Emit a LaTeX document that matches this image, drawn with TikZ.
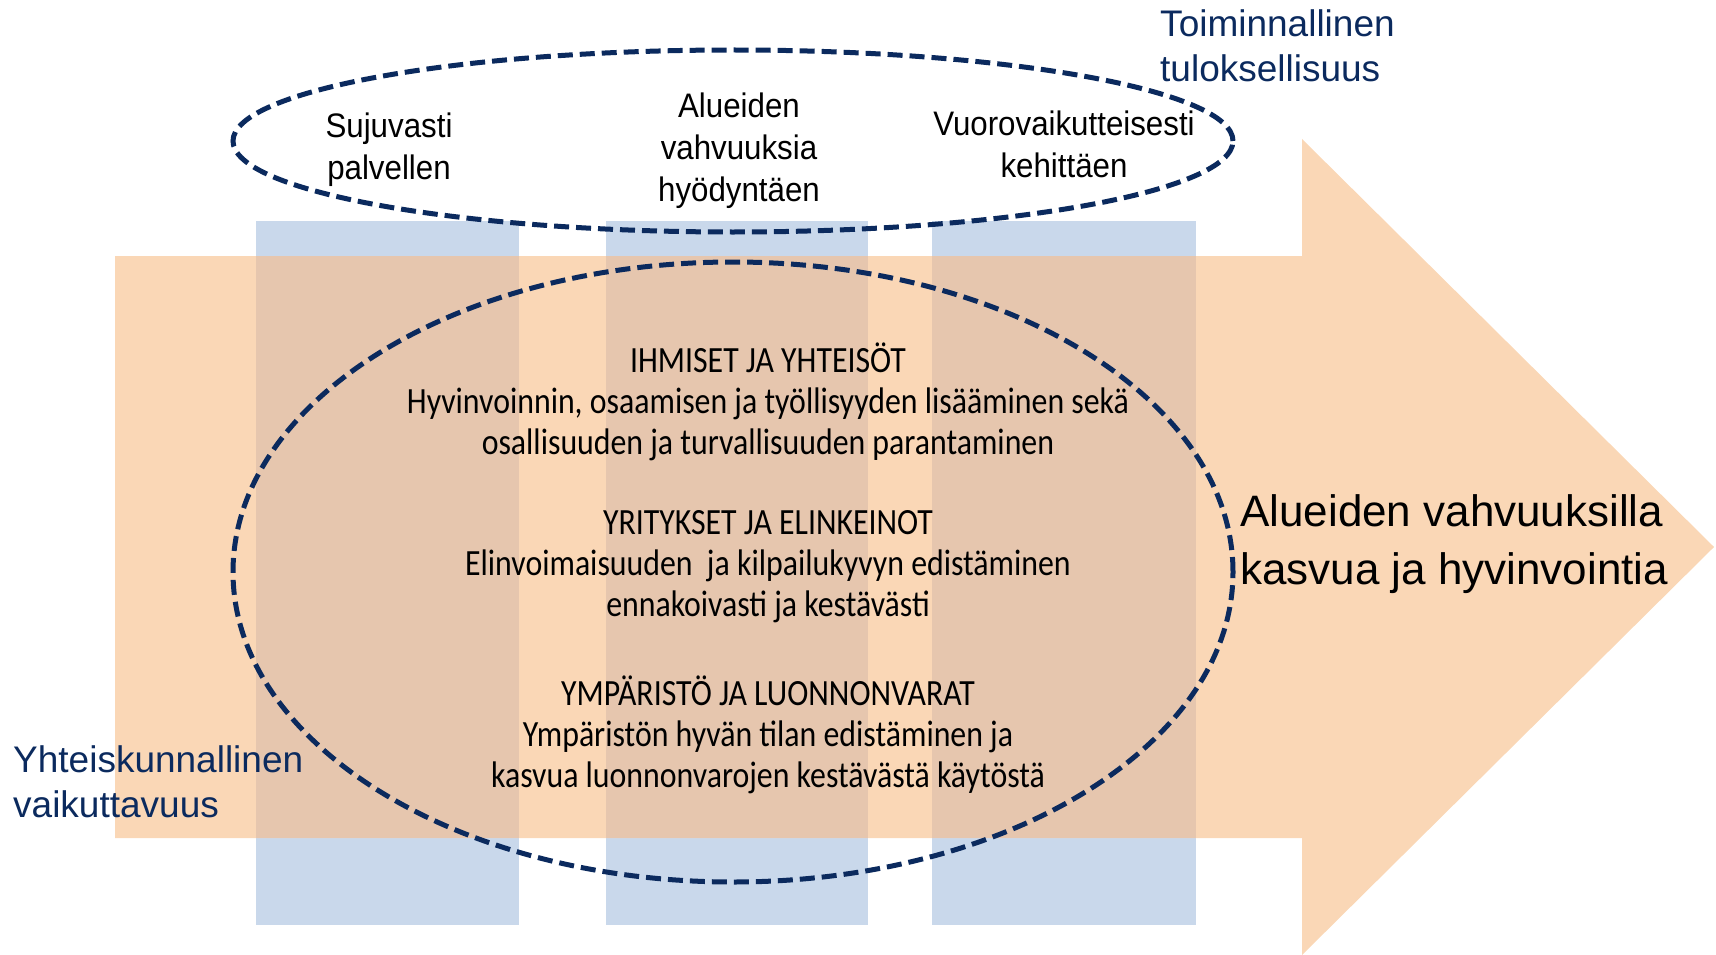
\documentclass[tikz,border=0pt]{standalone}
\usepackage{fontspec}
\setmainfont{Liberation Sans}
\newfontfamily\narrowfont[FakeStretch=0.92]{Liberation Sans}
\newfontfamily\condfont[FakeStretch=0.86]{Carlito}
\usetikzlibrary{positioning}

\definecolor{peach}{HTML}{FAD7B6}
\definecolor{paleblue}{HTML}{C9D8EB}
\definecolor{mixed}{HTML}{E6C6AE}
\definecolor{navy}{HTML}{0B2A5E}

\begin{document}
\begin{tikzpicture}[x=1pt, y=-1pt,
    colbox/.style={fill=paleblue, draw=none},
    overlap/.style={fill=mixed, draw=none},
    ring/.style={draw=navy, line width=5pt, dash pattern=on 15pt off 7pt},
    toplbl/.style={align=center, inner sep=0pt, font=\narrowfont\fontsize{34}{42}\selectfont},
    goal/.style={align=center, inner sep=0pt, font=\condfont\fontsize{37}{41}\selectfont},
    sidelbl/.style={align=left, anchor=west, inner sep=0pt, text=navy, font=\fontsize{37}{45}\selectfont}]

    \useasboundingbox (0,0) rectangle (1716,955);

    \fill[colbox] (256,221) rectangle (519,925);
    \fill[colbox] (606,221) rectangle (868,925);
    \fill[colbox] (932,221) rectangle (1196,925);

    \fill[peach] (115,256) -- (1302,256) -- (1302,139) -- (1714,547) -- (1302,955) -- (1302,838) -- (115,838) -- cycle;

    \fill[overlap] (256,256) rectangle (519,838);
    \fill[overlap] (606,256) rectangle (868,838);
    \fill[overlap] (932,256) rectangle (1196,838);

    \draw[ring] (733,141) ellipse [x radius=500pt, y radius=91pt];
    \draw[ring] (733,572) ellipse [x radius=500pt, y radius=310pt];

    \node[toplbl] (sujuvasti) at (389,150) {Sujuvasti\\palvellen};
    \node[toplbl] (vahvuuksia) at (739,151) {Alueiden\\vahvuuksia\\hyödyntäen};
    \node[toplbl] (vuorovaik) at (1064,144) {Vuorovaikutteisesti\\kehittäen};

    \node[goal] (ihmiset) at (768,402) {IHMISET JA YHTEISÖT\\Hyvinvoinnin, osaamisen ja työllisyyden lisääminen sekä\\osallisuuden ja turvallisuuden parantaminen};
    \node[goal] (yritykset) at (768,567) {YRITYKSET JA ELINKEINOT\\Elinvoimaisuuden \ ja kilpailukyvyn edistäminen\\ennakoivasti ja kestävästi};
    \node[goal] (ymparisto) at (768,735) {YMPÄRISTÖ JA LUONNONVARAT\\Ympäristön hyvän tilan edistäminen ja\\kasvua luonnonvarojen kestävästä käytöstä};

    \node[sidelbl] (toiminnallinen) at (1160,46) {Toiminnallinen\\tuloksellisuus};
    \node[sidelbl] (yhteiskunnallinen) at (13,782) {Yhteiskunnallinen\\vaikuttavuus};

    \node[align=left, anchor=west, inner sep=0pt, font=\fontsize{44}{58}\selectfont] (kasvua) at (1240,544) {Alueiden vahvuuksilla\\kasvua ja hyvinvointia};

\end{tikzpicture}
\end{document}
